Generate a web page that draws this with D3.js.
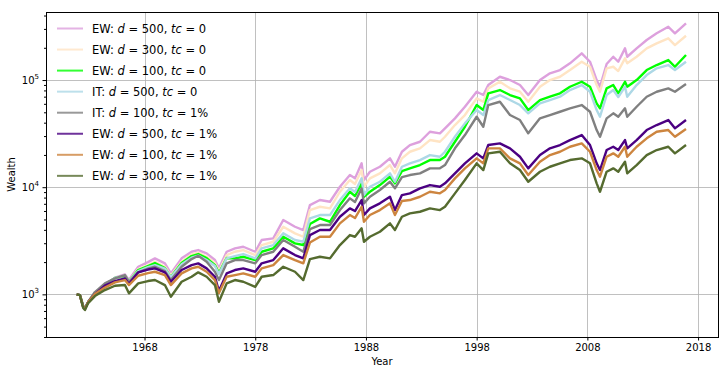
<!DOCTYPE html>
<html lang="en">
<head>
    <meta charset="UTF-8">
    <title>Wealth by strategy</title>
    <script src="https://cdnjs.cloudflare.com/ajax/libs/d3/7.8.5/d3.min.js"></script>
    <style>
        body { margin: 0; background: #fff; }
        text { font-family: "DejaVu Sans", sans-serif; fill: #000; }
    </style>
</head>
<body>
<script>
// time points (fractional years) and wealth
var years = [1961.87,1962.16,1962.46,1962.62,1962.91,1963.52,1964.42,1965.33,1966.23,1966.59,1967.43,1968.31,1968.94,1969.84,1970.38,1971.35,1972.25,1972.85,1973.61,1974.36,1974.72,1975.42,1976.17,1976.92,1978.0,1978.58,1979.63,1980.53,1981.59,1982.34,
    1982.94,1983.84,1984.75,1985.65,1986.55,1987.01,1987.61,1987.82,1988.36,1989.26,1990.17,1990.62,1991.25,1991.97,1992.88,1993.78,1994.68,1995.14,1996.04,1996.94,1998.0,1998.6,1999.05,2000.1,2001.01,2001.91,2002.66,2003.72,2004.62,2005.53,2006.43,2007.49,2008.24,2008.84,2009.14,2009.74,2010.34,2010.79,2011.4,2011.6,2012.45,2013.36,2014.26,2015.31,2015.91,2016.91];

var ewD500tc0 = [1000,985,777,745,848,1028,1221,1429,1537,1360,1810,2001,2168,1947,1570,2168,2498,2591,2413,2090,1748,2498,2688,2782,2498,3213,3332,4937,4274,3982,
    6813,7587,7314,10100,12985,12090,16700,11660,13940,15520,18590,15520,21420,24740,26560,32930,31810,35420,43910,56340,77780,72440,89800,107350,100000,89800,72440,100000,115480,123970,143170,177500,148200,100000,86590,141100,165030,148200,197600,165030,197600,236200,272850,314400,272850,338240];
var ewD300tc0 = [1000,985,777,745,848,1028,1221,1420,1498,1331,1722,1877,2015,1810,1498,2015,2362,2455,2243,1960,1650,2327,2498,2591,2327,2885,3097,4274,3709,3448,
    6119,6570,6347,9069,11660,10700,14454,10100,12090,13470,16100,13470,18590,21420,23050,27540,26560,29560,38020,47140,67490,62720,83640,96410,83640,77780,62720,86590,100000,107350,123970,148200,133090,89800,77780,128580,133090,121340,159400,143170,165030,197600,220000,245000,212100,259000];
var ewD100tc0 = [1000,985,777,745,848,1028,1221,1420,1482,1317,1686,1837,1960,1760,1450,1960,2278,2377,2182,1877,1580,2182,2168,2243,2090,2498,2688,3448,2992,2885,
    4530,5120,4760,6813,9069,8267,10860,8145,9069,10470,12520,10860,14150,14990,16100,17920,17920,19240,26560,36660,58450,52480,75140,80670,72440,67490,52480,65060,69860,75140,86590,96410,86590,60600,54430,83640,89800,75140,96410,86590,100000,123970,138040,153690,133090,171120];
var itD500tc0 = [1000,985,777,745,848,1028,1221,1420,1498,1331,1650,1798,1877,1741,1450,1905,2196,2302,2090,1837,1547,2168,2278,2377,2168,2688,2885,3709,3213,3097,
    5120,5497,5497,7587,9757,9011,12090,8448,10100,11240,13470,11240,15520,16700,17920,19950,19240,21420,29560,39440,52480,47140,65060,72440,65060,58450,48900,60600,65060,69860,80670,89800,77780,52480,45440,72440,80670,69400,86590,69860,89800,111340,128580,138040,123970,148200];
var itD100tc1 = [1000,985,777,745,848,1051,1266,1410,1514,1311,1604,1741,1810,1650,1360,1810,2135,2292,2015,1625,1360,1947,2090,2090,1947,2327,2498,3213,2782,2498,
    4068,4435,4435,6119,7870,7266,9757,7068,8145,9406,11240,9757,12440,12985,13470,14990,14990,16100,23050,30660,45440,36660,58450,62720,47140,42330,31810,43910,47140,50590,54430,58450,50590,34150,29560,43910,48900,45440,54430,45440,56340,69860,77780,83640,77780,91780];
var ewD500tc1 = [1000,985,761,729,848,1006,1208,1331,1410,1248,1604,1704,1748,1604,1311,1686,1877,1947,1748,1460,1074,1570,1686,1748,1625,1947,2090,2688,2327,2168,
    3576,3982,3982,5300,6347,5990,7587,5497,6347,7068,8145,6119,8448,8760,9757,10470,10100,10860,13470,16700,20700,18590,24740,25660,23050,19240,14990,19950,23050,24740,27540,30660,24740,16700,14454,22220,23850,22220,27540,23050,27540,34150,38020,42330,35420,42330];
var ewD100tc1 = [1000,985,761,729,848,1006,1157,1294,1360,1221,1491,1580,1625,1514,1221,1570,1748,1810,1625,1360,1028,1460,1514,1570,1460,1748,1877,2327,2090,1947,
    3044,3448,3448,4599,5497,5153,6570,4760,5497,6119,7068,5497,7426,7587,8145,9069,8760,9406,12090,14990,18590,16700,23050,23050,18590,16700,12985,17280,19950,21420,23850,25660,21420,14454,12520,19240,20700,19240,23850,19240,23850,28570,32930,34150,29560,34890];
var ewD300tc1 = [1000,985,745,714,829,964,1097,1203,1221,1022,1266,1331,1360,1221,950,1311,1460,1604,1460,1221,853,1266,1360,1311,1177,1460,1514,1810,1625,1360,
    2135,2243,2168,2885,3576,3448,4130,3097,3448,3839,4599,3982,5300,5702,5901,6347,6119,6570,8760,11660,16700,14454,20700,21420,16700,14454,11240,13940,15520,16700,17920,18590,16700,10860,9069,13940,14990,13940,17280,13470,16100,19950,22220,23850,20700,24740];

// legend text parts
var strategies = ["EW","EW","EW","IT","IT","EW","EW","EW"];
var dValues = [500,300,100,500,100,500,100,300];
var tcValues = ["0","0","0","0","1%","1%","1%","1%"];

// axis ticks
var xTicks = [1968,1978,1988,1998,2008,2018];
var yMajor = [1e3,1e4,1e5];

var allSeries = [ewD500tc0, ewD300tc0, ewD100tc0, itD500tc0, itD100tc1, ewD500tc1, ewD100tc1, ewD300tc1];
var colors = ["#dda0dd","#ffe4c4","#00ff00","#add8e6","#808080","#4b0082","#cd853f","#556b2f"];

// plot box in pixels
var plotLeft = 46, plotRight = 718, plotTop = 12, plotBottom = 337;

var svg = d3.select("body")
    .append("svg")
    .attr("width", 727)
    .attr("height", 375);

var xScale = d3.scaleLinear().domain([1959.1, 2019.8]).range([plotLeft, plotRight]);
var yScale = d3.scaleLog().domain([400, 431500]).range([plotBottom, plotTop]);

// grid
var grid = svg.append("g").attr("stroke", "#b0b0b0").attr("stroke-width", 0.8);
xTicks.forEach(function(t) {
    var x = Math.round(xScale(t)) + 0.5;
    grid.append("line").attr("x1", x).attr("x2", x).attr("y1", plotTop).attr("y2", plotBottom);
});
yMajor.forEach(function(t) {
    var y = Math.round(yScale(t)) + 0.5;
    grid.append("line").attr("x1", plotLeft).attr("x2", plotRight).attr("y1", y).attr("y2", y);
});

// lines
svg.append("clipPath").attr("id", "plot")
    .append("rect").attr("x", plotLeft).attr("y", plotTop)
    .attr("width", plotRight - plotLeft).attr("height", plotBottom - plotTop);

var line = d3.line()
    .x(function(d, i) { return xScale(years[i]); })
    .y(function(d) { return yScale(d); });

svg.append("g").attr("clip-path", "url(#plot)")
    .selectAll("path")
    .data(allSeries)
    .enter()
    .append("path")
    .attr("d", line)
    .attr("fill", "none")
    .attr("stroke", function(d, i) { return colors[i]; })
    .attr("stroke-width", 2.4)
    .attr("stroke-linejoin", "round");

// x axis
var xAxis = d3.axisBottom(xScale)
    .tickValues(xTicks)
    .tickFormat(d3.format("d"))
    .tickSize(3.5)
    .tickPadding(3.5);
var gx = svg.append("g")
    .attr("transform", "translate(0," + plotBottom + ")")
    .call(xAxis);
gx.select(".domain").remove();
gx.selectAll("text").style("font-size", "10px").style("font-family", "DejaVu Sans").attr("fill", "#000");

// y axis, major ticks with 10^n labels
var yAxis = d3.axisLeft(yScale)
    .tickValues(yMajor)
    .tickFormat("")
    .tickSize(3.5);
var gy = svg.append("g")
    .attr("transform", "translate(" + plotLeft + ",0)")
    .call(yAxis);
gy.select(".domain").remove();

var minor = yScale.ticks().filter(function(v) { return yMajor.indexOf(v) < 0; });
var gyMinor = svg.append("g")
    .attr("transform", "translate(" + plotLeft + ",0)")
    .call(d3.axisLeft(yScale).tickValues(minor).tickFormat("").tickSize(2));
gyMinor.select(".domain").remove();

yMajor.forEach(function(v) {
    var t = svg.append("text")
        .attr("x", plotLeft - 7)
        .attr("y", yScale(v) + 4)
        .attr("text-anchor", "end")
        .style("font-size", "10px");
    t.append("tspan").text("10");
    t.append("tspan").attr("dy", -5).style("font-size", "7px").text(Math.round(Math.log10(v)));
});

// frame
svg.append("rect")
    .attr("x", plotLeft + 0.5).attr("y", plotTop + 0.5)
    .attr("width", plotRight - plotLeft).attr("height", plotBottom - plotTop)
    .attr("fill", "none").attr("stroke", "#000").attr("stroke-width", 1);

// axis titles
svg.append("text")
    .attr("x", (plotLeft + plotRight) / 2).attr("y", 365)
    .attr("text-anchor", "middle")
    .style("font-size", "10px")
    .text("Year");
svg.append("text")
    .attr("transform", "translate(15," + (plotTop + plotBottom) / 2 + ") rotate(-90)")
    .attr("text-anchor", "middle")
    .style("font-size", "10px")
    .text("Wealth");

// legend (no frame)
var legend = svg.append("g");
strategies.forEach(function(s, i) {
    var y = 28.5 + i * 21.05;
    legend.append("line")
        .attr("x1", 57).attr("x2", 83).attr("y1", y).attr("y2", y)
        .attr("stroke", colors[i]).attr("stroke-width", 2).attr("stroke-opacity", 0.8);
    var t = legend.append("text").attr("x", 92).attr("y", y + 4.3).style("font-size", "11.5px");
    t.append("tspan").text(s + ": ");
    t.append("tspan").style("font-style", "italic").text("d");
    t.append("tspan").text(" = " + dValues[i] + ", ");
    t.append("tspan").style("font-style", "italic").text("tc");
    t.append("tspan").text(" = " + tcValues[i]);
});
</script>
</body>
</html>
